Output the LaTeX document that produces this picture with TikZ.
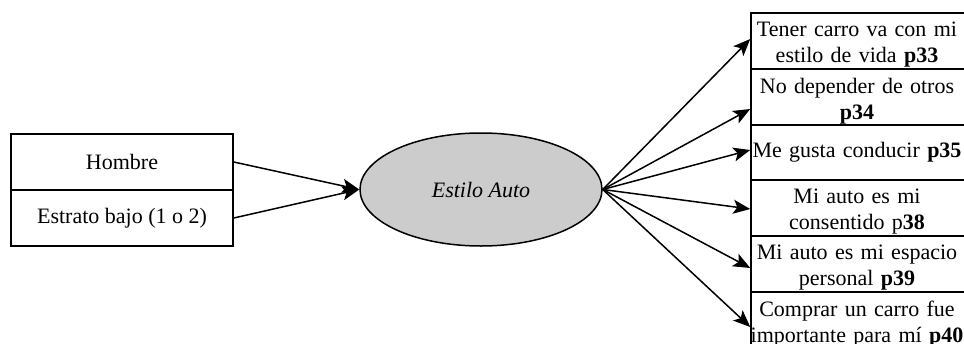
\documentclass[tikz,border=0pt]{standalone}
\usepackage{fontspec}
\setmainfont{Liberation Serif}
\usetikzlibrary{arrows.meta,shapes.geometric}
\tikzset{
  base/.style={font=\fontsize{22}{26}\selectfont, inner sep=0pt},
  leftbox/.style={base, draw, line width=1.5pt, minimum width=222pt, minimum height=56pt},
  cell/.style={draw, line width=1.5pt, inner sep=0pt, minimum width=224pt, minimum height=56pt},
  item/.style={base, text width=230pt, align=center},
  latent/.style={base, ellipse, draw, line width=1.5pt, fill=black!20,
    minimum width=242pt, minimum height=113pt, font=\fontsize{22}{26}\selectfont\itshape},
  link/.style={line width=1.5pt, -{Stealth[length=17pt,width=14pt,inset=4pt]}}
}
\begin{document}
\begin{tikzpicture}[x=1pt,y=-1pt]
\useasboundingbox (0,0) rectangle (964,343);

% predictors
\node[leftbox] (h1) at (122,162) {Hombre};
\node[leftbox] (h2) at (122,218) {Estrato bajo (1 o 2)};

% latent variable
\node[latent] (el) at (481,189.5) {Estilo Auto};

% indicator cells (the right side runs past the page edge)
\node[cell] (b33) at (863,41)    {};
\node[cell] (b34) at (863,97)    {};
\node[cell] (b35) at (863,152.5) {};
\node[cell] (b38) at (863,208)   {};
\node[cell] (b39) at (863,264)   {};
\node[cell] (b40) at (863,320)   {};

% indicator texts
\node[item, anchor=north] (t33) at (857,22)  {Tener carro va con mi\\estilo de vida \textbf{p33}};
\node[item, anchor=north] (t34) at (857,78)  {No depender de otros\\\textbf{p34}};
\node[item]               (t35) at (857,152) {Me gusta conducir \textbf{p35}};
\node[item, anchor=north] (t38) at (857,189) {Mi auto es mi\\consentido p\textbf{38}};
\node[item, anchor=north] (t39) at (857,245) {Mi auto es mi espacio\\personal \textbf{p39}};
\node[item, anchor=north] (t40) at (857,301) {Comprar un carro fue\\importante para mí \textbf{p40}};

% paths
\draw[link] (h1.east) -- (el.west);
\draw[link] (h2.east) -- (el.west);
\draw[link] (el.east) -- ([yshift=2pt]b33.west);
\draw[link] (el.east) -- ([yshift=-12pt]b34.west);
\draw[link] (el.east) -- ([yshift=2.5pt]b35.west);
\draw[link] (el.east) -- ([yshift=-1pt]b38.west);
\draw[link] (el.east) -- ([yshift=-4pt]b39.west);
\draw[link] (el.east) -- ([yshift=-7pt]b40.west);
\end{tikzpicture}
\end{document}
